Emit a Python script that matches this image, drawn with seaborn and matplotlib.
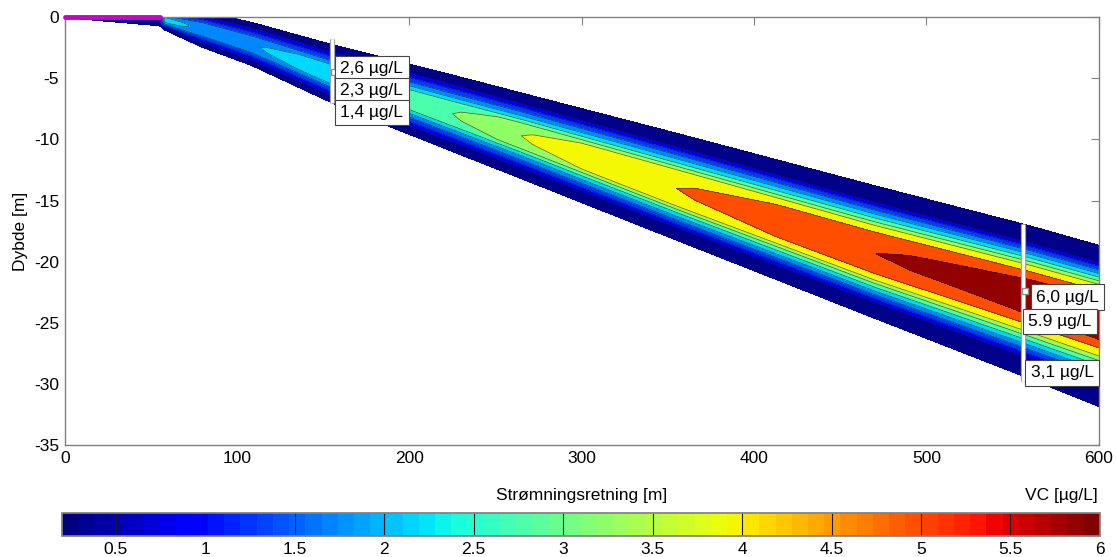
import numpy as np
import pandas as pd
import seaborn as sns
import matplotlib
matplotlib.use("Agg")
import matplotlib.pyplot as plt
from matplotlib.colors import Normalize
from matplotlib.ticker import FormatStrFormatter

# --- data -------------------------------------------------------------
# plume described at a few stations along the flow direction
x_st = [0, 20, 55, 58, 80, 108, 155, 175, 225, 265, 355, 470, 560, 600]
top_st = [0.0, 0.0, 0.0, 0.6, 0.8, 0.0, -1.8, -2.5, -4.3, -5.8, -9.1, -13.4, -16.7, -18.3]
bot_st = [-0.05, -0.4, -1.0, -1.2, -2.8, -4.3, -7.4, -8.6, -11.4, -13.6, -18.6, -25.0, -30.0, -32.3]
cen_st = [-0.02, -0.1, -0.2, -0.2, -1.0, -2.2, -4.7, -5.6, -7.9, -9.7, -14.0, -19.3, -22.8, -24.4]
peak_st = [0.3, 0.35, 0.45, 2.2, 1.9, 1.95, 2.4, 2.55, 3.0, 3.5, 4.5, 5.5, 6.0, 6.1]

# cross-section shape (relative distance from core -> fraction of peak)
eta_pts = [0.0, 0.1, 0.25, 0.42, 0.71, 1.0]
shape_pts = [1.0, 0.98, 0.9, 0.57, 0.082, 0.0]

levels = [0.1, 0.5, 1, 1.5, 2, 2.5, 3, 3.5, 4.5, 5.5, 6.5]
cbar_ticks = [0.5, 1, 1.5, 2, 2.5, 3, 3.5, 4, 4.5, 5, 5.5, 6]

source_x = [0, 55]
source_y = [0, 0]

probe_x = [155, 556]
probe_top = [-1.8, -16.9]
probe_bot = [-7.0, -29.8]
probe_labels = [["2,6 µg/L", "2,3 µg/L", "1,4 µg/L"],
                ["6,0 µg/L", "5.9 µg/L", "3,1 µg/L"]]
label_x = [[160, 160, 160], [563.5, 559, 560.5]]
label_y = [[-4.2, -6.0, -7.8], [-22.9, -24.9, -29.1]]
tip_y = [-4.5, -22.4]

# --- build the concentration field --------------------------------------
xg = np.linspace(0, 600, 1201)
zg = np.linspace(-35, 0, 701)
X, Z = np.meshgrid(xg, zg)
top = np.interp(xg, x_st, top_st)
bot = np.interp(xg, x_st, bot_st)
cen = np.interp(xg, x_st, cen_st)
peak = np.interp(xg, x_st, peak_st)
eta = np.where(Z >= cen, (Z - cen) / np.maximum(top - cen, 1e-3),
               (cen - Z) / np.maximum(cen - bot, 1e-3))
C = peak * np.interp(eta, eta_pts, shape_pts, right=0.0)

# --- plot -------------------------------------------------------------
sns.set_theme(style="white")
plt.rcParams["font.family"] = ["Liberation Sans", "DejaVu Sans"]
plt.rcParams["font.size"] = 12.5
plt.rcParams["axes.unicode_minus"] = False
plt.rcParams["text.color"] = "black"
plt.rcParams["axes.labelcolor"] = "black"
plt.rcParams["xtick.labelcolor"] = "black"
plt.rcParams["ytick.labelcolor"] = "black"

fig = plt.figure(figsize=(11.16, 5.57), dpi=100)
ax = fig.add_axes([0.058, 0.201, 0.9265, 0.768])

norm = Normalize(0.2, 6.0)
band_vals = [0.25, 0.75, 1.25, 1.7, 2.15, 2.75, 3.25, 3.95, 5.0, 5.9]
band_colors = [plt.cm.jet(norm(v)) for v in band_vals]
ax.contourf(X, Z, C, levels=levels, colors=band_colors)
ax.contour(X, Z, C, levels=levels[1:-1], colors="k", linewidths=0.5, alpha=0.7)

sns.lineplot(x=source_x, y=source_y, color="#cc00cc", linewidth=3.5, ax=ax,
             zorder=5, clip_on=False)

for i in range(len(probe_x)):
    ax.plot([probe_x[i], probe_x[i]], [probe_top[i], probe_bot[i]],
            color="#909090", lw=3.8, zorder=6, solid_capstyle="butt")
    ax.plot([probe_x[i], probe_x[i]], [probe_top[i], probe_bot[i]],
            color="white", lw=2.4, zorder=7, solid_capstyle="butt")
    ax.plot(probe_x[i] + 1.5, tip_y[i], marker="s", ms=5, mfc="white",
            mec="#909090", zorder=8)
    for lab, lx, ly in zip(probe_labels[i], label_x[i], label_y[i]):
        ax.text(lx, ly, lab, ha="left", va="center", fontsize=12.5, zorder=9,
                bbox=dict(boxstyle="square,pad=0.3", fc="white",
                          ec="#444444", lw=0.8))

ax.set_xlim(0, 600)
ax.set_ylim(-35, 0)
ax.set_xticks(range(0, 601, 100))
ax.set_yticks(range(-35, 1, 5))
ax.tick_params(direction="in", length=6, width=0.8, color="#808080",
               top=True, right=True, pad=4, labelsize=12.5)
for s in ax.spines.values():
    s.set_color("#808080")
    s.set_linewidth(1.0)

ax.set_xlabel("Strømningsretning [m]", fontsize=12.5)
ax.xaxis.set_label_coords(0.5, -0.1)
ax.set_ylabel("Dybde [m]", fontsize=12.5)
ax.yaxis.set_label_coords(-0.036, 0.5)

# colorbar
cax = fig.add_axes([0.0556, 0.0377, 0.930, 0.041])
sm = plt.cm.ScalarMappable(norm=norm, cmap=plt.get_cmap("jet", 64))
cb = fig.colorbar(sm, cax=cax, orientation="horizontal")
cb.set_ticks(cbar_ticks)
cb.ax.xaxis.set_major_formatter(FormatStrFormatter("%g"))
cb.ax.tick_params(length=0, pad=4, labelsize=12.5)
cb.ax.vlines(cbar_ticks[:-1], 0, 1, colors="k", linewidth=0.8,
             transform=cb.ax.get_xaxis_transform())
cb.outline.set_edgecolor("#808080")
fig.text(0.984, 0.111, "VC [µg/L]", ha="right", va="center", fontsize=12.5)

fig.savefig("out.png", dpi=100)
